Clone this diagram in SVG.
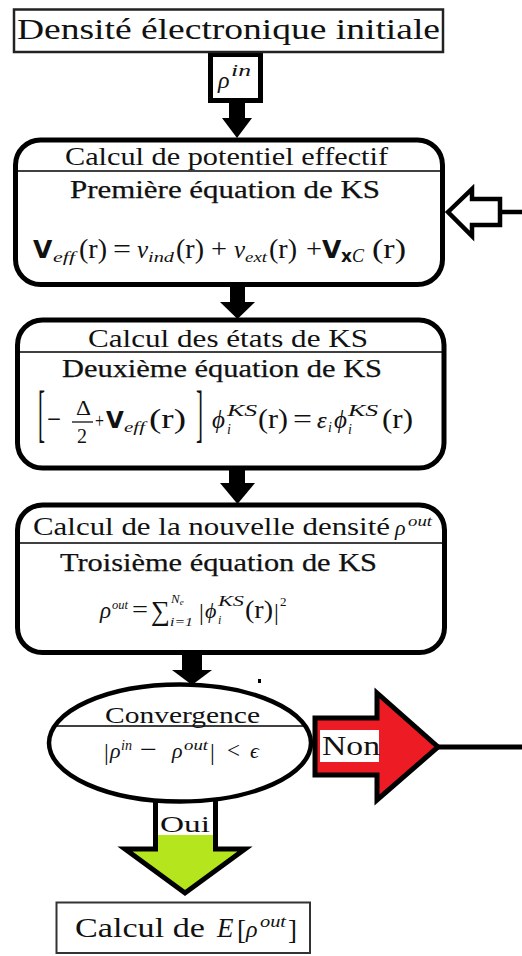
<svg xmlns="http://www.w3.org/2000/svg" width="522" height="956" viewBox="0 0 522 956">
<style>
.t{font-family:"Liberation Serif","DejaVu Serif",serif;fill:#111}
.b{stroke:#111;stroke-width:0.25}
.m{font-family:"Liberation Serif","DejaVu Serif",serif;font-style:italic;fill:#111}
.v{font-family:"DejaVu Sans","Liberation Sans",sans-serif;font-weight:bold;fill:#111}
.box{fill:#fff;stroke:#000;stroke-width:5}
.div{stroke:#000;stroke-width:1.5}
.arr{fill:#000}
</style>
<rect width="522" height="956" fill="#fff"/>

<g id="connectors">
  <rect x="210.5" y="54.5" width="50" height="46" fill="#fff" stroke="#000" stroke-width="5"/>
  <rect x="229" y="102" width="16" height="17" class="arr"/>
  <polygon points="222,118 252,118 237,138" class="arr"/>
  <rect x="230" y="286" width="15" height="17" class="arr"/>
  <polygon points="220,302 255,302 237.5,319" class="arr"/>
  <rect x="229" y="469" width="16" height="15" class="arr"/>
  <polygon points="220,483 255,483 237.5,504" class="arr"/>
  <rect x="182" y="654" width="20" height="17" class="arr"/>
  <polygon points="172,670 212,670 192,685" class="arr"/>
  <polygon points="448,212 472,189 472,199 500,199 500,225 472,225 472,236" fill="#fff" stroke="#000" stroke-width="4.5" stroke-linejoin="miter"/>
  <line x1="500" y1="212" x2="522" y2="212" stroke="#000" stroke-width="4.5"/>
  <polygon points="155.5,795 215.5,795 215.5,849 245,849 185,893 125,849 155.5,849" fill="#B5E61D" stroke="#000" stroke-width="5"/>
  <rect x="158" y="800" width="55" height="35" fill="#fff"/>
  <text x="160" y="832" class="t" font-size="24" textLength="50" lengthAdjust="spacingAndGlyphs">Oui</text>
  <polygon points="315,718 377,718 377,693 438,747 377,800 377,775 315,775" fill="#ED1C24" stroke="#000" stroke-width="5"/>
  <rect x="320" y="730" width="59" height="32" fill="#fff"/>
  <text x="322" y="755" class="t" font-size="27" textLength="58" lengthAdjust="spacingAndGlyphs">Non</text>
  <line x1="436" y1="747" x2="522" y2="747" stroke="#000" stroke-width="5"/>
  <rect x="258" y="679" width="3" height="4" fill="#000"/>
</g>

<g id="rho-in">
  <text x="218" y="88" class="m" font-size="24">ρ</text>
  <text x="231" y="76" class="m" font-size="17" textLength="20" lengthAdjust="spacingAndGlyphs">in</text>
</g>

<g id="initial">
  <rect x="14" y="9.5" width="429" height="42.5" fill="#fff" stroke="#222" stroke-width="2.5"/>
  <text x="17" y="39" class="t" font-size="30" textLength="423" lengthAdjust="spacingAndGlyphs">Densité électronique initiale</text>
</g>

<g id="box1">
  <rect x="15.5" y="140" width="427" height="144.5" rx="25" class="box"/>
  <line x1="18" y1="171" x2="440" y2="171" class="div"/>
  <text x="65" y="165" class="t" font-size="25" textLength="323" lengthAdjust="spacingAndGlyphs">Calcul de potentiel effectif</text>
  <text x="70" y="198" class="t b" font-size="25" textLength="310" lengthAdjust="spacingAndGlyphs">Première équation de KS</text>
  <text x="33" y="258" class="v" font-size="25">V</text>
  <text x="53" y="262" class="m" font-size="15" textLength="22" lengthAdjust="spacingAndGlyphs">eff</text>
  <text x="79" y="258" class="t" font-size="27" textLength="28" lengthAdjust="spacingAndGlyphs">(r)</text>
  <text x="113" y="258" class="t" font-size="27" textLength="18" lengthAdjust="spacingAndGlyphs">=</text>
  <text x="137" y="258" class="m" font-size="25">v</text>
  <text x="148" y="262" class="m" font-size="15" textLength="26" lengthAdjust="spacingAndGlyphs">ind</text>
  <text x="176" y="258" class="t" font-size="27" textLength="28" lengthAdjust="spacingAndGlyphs">(r)</text>
  <text x="211" y="258" class="t" font-size="27" textLength="16" lengthAdjust="spacingAndGlyphs">+</text>
  <text x="234" y="258" class="m" font-size="25">v</text>
  <text x="245" y="262" class="m" font-size="15" textLength="22" lengthAdjust="spacingAndGlyphs">ext</text>
  <text x="269" y="258" class="t" font-size="27" textLength="28" lengthAdjust="spacingAndGlyphs">(r)</text>
  <text x="306" y="258" class="t" font-size="27" textLength="16" lengthAdjust="spacingAndGlyphs">+</text>
  <text x="322" y="258" class="v" font-size="25">V</text>
  <text x="341" y="262" class="v" font-size="17">x</text>
  <text x="352" y="262" class="m" font-size="18">C</text>
  <text x="372" y="258" class="t" font-size="27" textLength="34" lengthAdjust="spacingAndGlyphs">(r)</text>
</g>

<g id="box2">
  <rect x="17.5" y="320" width="426.5" height="148" rx="25" class="box"/>
  <line x1="20" y1="352" x2="442" y2="352" class="div"/>
  <text x="88" y="347" class="t" font-size="25" textLength="280" lengthAdjust="spacingAndGlyphs">Calcul des états de KS</text>
  <text x="62" y="377" class="t b" font-size="25" textLength="320" lengthAdjust="spacingAndGlyphs">Deuxième équation de KS</text>
  <text transform="matrix(1,0,0,3,38,433.5)" class="t" font-size="21">[</text>
  <text x="47" y="428" class="t" font-size="27" textLength="14" lengthAdjust="spacingAndGlyphs">−</text>
  <text x="76" y="415" class="t" font-size="20" textLength="15" lengthAdjust="spacingAndGlyphs">Δ</text>
  <line x1="72" y1="422" x2="93" y2="422" stroke="#111" stroke-width="1.3"/>
  <text x="77" y="443" class="t" font-size="20">2</text>
  <text x="95" y="428" class="t" font-size="21" textLength="9" lengthAdjust="spacingAndGlyphs">+</text>
  <text x="106" y="428" class="v" font-size="23">V</text>
  <text x="124" y="432" class="m" font-size="15" textLength="21" lengthAdjust="spacingAndGlyphs">eff</text>
  <text x="149" y="428" class="t" font-size="28" textLength="37" lengthAdjust="spacingAndGlyphs">(r)</text>
  <text transform="matrix(1,0,0,3,196,433.5)" class="t" font-size="21">]</text>
  <text x="212" y="428" class="m" font-size="25">ϕ</text>
  <text x="227" y="434" class="m" font-size="14">i</text>
  <text x="227" y="416" class="m" font-size="16" textLength="30" lengthAdjust="spacingAndGlyphs">KS</text>
  <text x="258" y="428" class="t" font-size="28" textLength="30" lengthAdjust="spacingAndGlyphs">(r)</text>
  <text x="293" y="428" class="t" font-size="28" textLength="19" lengthAdjust="spacingAndGlyphs">=</text>
  <text x="317" y="428" class="m b" font-size="24">ε</text>
  <text x="328" y="432" class="m" font-size="14">i</text>
  <text x="334" y="428" class="m" font-size="25">ϕ</text>
  <text x="348" y="434" class="m" font-size="14">i</text>
  <text x="348" y="416" class="m" font-size="16" textLength="30" lengthAdjust="spacingAndGlyphs">KS</text>
  <text x="382" y="428" class="t" font-size="28" textLength="31" lengthAdjust="spacingAndGlyphs">(r)</text>
</g>

<g id="box3">
  <rect x="17.5" y="505" width="427" height="147.5" rx="25" class="box"/>
  <line x1="20" y1="543" x2="442" y2="543" class="div"/>
  <text x="33" y="535" class="t" font-size="25" textLength="357" lengthAdjust="spacingAndGlyphs">Calcul de la nouvelle densité</text>
  <text x="395" y="535" class="m" font-size="22">ρ</text>
  <text x="408" y="526" class="m" font-size="14" textLength="24" lengthAdjust="spacingAndGlyphs">out</text>
  <text x="60" y="571" class="t b" font-size="25" textLength="317" lengthAdjust="spacingAndGlyphs">Troisième équation de KS</text>
  <text x="100" y="618" class="m" font-size="23">ρ</text>
  <text x="112" y="609" class="m" font-size="13" textLength="16" lengthAdjust="spacingAndGlyphs">out</text>
  <text x="132" y="618" class="t" font-size="25" textLength="16" lengthAdjust="spacingAndGlyphs">=</text>
  <text x="151" y="620" class="t" font-size="27" textLength="19" lengthAdjust="spacingAndGlyphs">∑</text>
  <text x="171" y="603" class="m" font-size="13">N<tspan font-size="9" dy="2">e</tspan></text>
  <text x="170" y="626" class="m" font-size="13" textLength="23" lengthAdjust="spacingAndGlyphs">i=1</text>
  <text x="199" y="620" class="t" font-size="24">|</text>
  <text x="205" y="618" class="m" font-size="22">ϕ</text>
  <text x="218" y="624" class="m" font-size="12">i</text>
  <text x="218" y="606" class="m" font-size="14" textLength="26" lengthAdjust="spacingAndGlyphs">KS</text>
  <text x="245" y="618" class="t" font-size="25" textLength="28" lengthAdjust="spacingAndGlyphs">(r)</text>
  <text x="274" y="620" class="t" font-size="24">|</text>
  <text x="280" y="606" class="t" font-size="13">2</text>
</g>

<g id="convergence">
  <ellipse cx="180" cy="743" rx="131" ry="58.5" fill="#fff" stroke="#000" stroke-width="4.5"/>
  <line x1="55" y1="726" x2="306" y2="726" class="div"/>
  <text x="105" y="723" class="t" font-size="24" textLength="155" lengthAdjust="spacingAndGlyphs">Convergence</text>
  <text x="104" y="760" class="t" font-size="24">|</text>
  <text x="110" y="758" class="m" font-size="22">ρ</text>
  <text x="121" y="750" class="m" font-size="14" textLength="11" lengthAdjust="spacingAndGlyphs">in</text>
  <text x="140" y="758" class="t" font-size="26" textLength="17" lengthAdjust="spacingAndGlyphs">−</text>
  <text x="172" y="758" class="m" font-size="22">ρ</text>
  <text x="184" y="750" class="m" font-size="14" textLength="24" lengthAdjust="spacingAndGlyphs">out</text>
  <text x="210" y="760" class="t" font-size="24">|</text>
  <text x="227" y="758" class="t" font-size="24" textLength="13" lengthAdjust="spacingAndGlyphs">&lt;</text>
  <text x="250" y="758" class="m" font-size="22">ϵ</text>
</g>

<g id="energy">
  <rect x="56.5" y="902.5" width="253.5" height="50.5" fill="#fff" stroke="#333" stroke-width="2"/>
  <text x="75" y="937" class="t" font-size="27" textLength="130" lengthAdjust="spacingAndGlyphs">Calcul de</text>
  <text x="217" y="937" class="m" font-size="27">E</text>
  <text x="237" y="939" class="t" font-size="27">[</text>
  <text x="246" y="937" class="m" font-size="24">ρ</text>
  <text x="260" y="927" class="m" font-size="16" textLength="26" lengthAdjust="spacingAndGlyphs">out</text>
  <text x="288" y="939" class="t" font-size="27">]</text>
</g>
</svg>
